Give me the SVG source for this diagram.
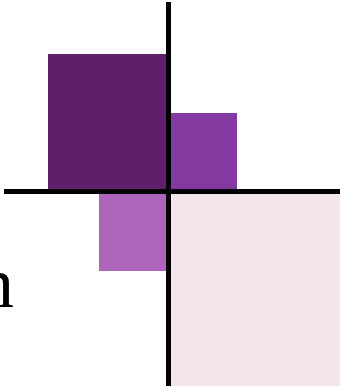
<svg xmlns="http://www.w3.org/2000/svg" width="340" height="386" viewBox="0 0 340 386">
<style>
.axis{stroke:#000;stroke-width:5;fill:none}
.lbl{font-family:"Liberation Serif","Times New Roman",serif;font-size:72px;fill:#000}
</style>
<rect width="340" height="386" fill="#fff"/>
<g id="q2"><rect x="48" y="54" width="118" height="135" fill="#5e2068"/></g>
<g id="q1"><rect x="171" y="113" width="66" height="76" fill="#8339a0"/></g>
<g id="q3"><rect x="99" y="194" width="67" height="77" fill="#ad65bb"/></g>
<g id="q4"><rect x="171" y="194" width="169" height="192" fill="#f3e5ec"/></g>
<g id="axes">
<line class="axis" x1="168.5" y1="2" x2="168.5" y2="386"/>
<line class="axis" x1="4" y1="191.5" x2="340" y2="191.5"/>
</g>
<g id="label"><text class="lbl" x="14" y="307" text-anchor="end">n</text></g>
</svg>
